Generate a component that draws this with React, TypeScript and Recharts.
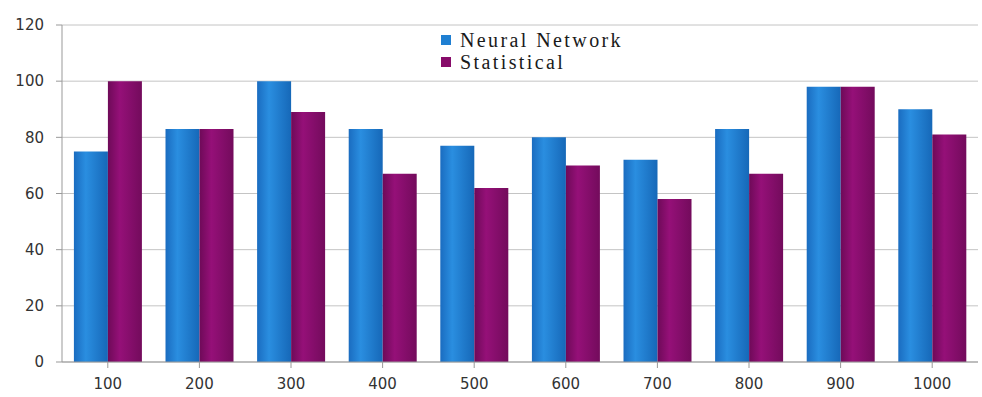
import { BarChart, Bar, XAxis, YAxis, CartesianGrid } from 'recharts';

const categorias = ['100', '200', '300', '400', '500', '600', '700', '800', '900', '1000'];
const neuralNetwork = [75, 83, 100, 83, 77, 80, 72, 83, 98, 90];
const statistical = [100, 83, 89, 67, 62, 70, 58, 67, 98, 81];
const yTicks = [0, 20, 40, 60, 80, 100, 120];

const series = [
  { key: 'Neural Network', cor: '#1f7fd2', grad: 'gradAzul' },
  { key: 'Statistical', cor: '#870c6a', grad: 'gradRoxo' },
];

const dados = categorias.map((c, i) => ({
  name: c,
  'Neural Network': neuralNetwork[i],
  Statistical: statistical[i],
}));

// legenda desenhada por fora para não roubar espaço da área do gráfico
function Legenda() {
  return (
    <div
      style={{
        position: 'absolute',
        left: 441,
        top: 29,
        fontFamily: 'Liberation Serif',
        fontSize: 20,
        letterSpacing: 2.4,
        color: '#1a1a1a',
        lineHeight: '22px',
      }}
    >
      {series.map((s) => (
        <div key={s.key} style={{ display: 'flex', alignItems: 'center' }}>
          <span style={{ width: 10, height: 10, background: s.cor, marginRight: 9, display: 'inline-block' }} />
          {s.key}
        </div>
      ))}
    </div>
  );
}

export default function App() {
  return (
    <div style={{ position: 'absolute', left: 0, top: 0, width: 982, height: 397, background: '#fff' }}>
      <BarChart
        width={982}
        height={397}
        data={dados}
        margin={{ top: 25, right: 4, left: 0, bottom: 5 }}
        barCategoryGap="13%"
        barGap={0}
      >
        <defs>
          <linearGradient id="gradAzul" x1="0" y1="0" x2="1" y2="0">
            <stop offset="0%" stopColor="#1a6cc0" />
            <stop offset="35%" stopColor="#2a8ee0" />
            <stop offset="100%" stopColor="#1668b8" />
          </linearGradient>
          <linearGradient id="gradRoxo" x1="0" y1="0" x2="1" y2="0">
            <stop offset="0%" stopColor="#6e0a58" />
            <stop offset="35%" stopColor="#951078" />
            <stop offset="100%" stopColor="#730b5c" />
          </linearGradient>
        </defs>
        <CartesianGrid vertical={false} stroke="#c4c4c4" />
        <XAxis
          dataKey="name"
          height={30}
          stroke="#999"
          tickLine={{ stroke: '#999' }}
          tick={{ fill: '#333', fontSize: 15, fontFamily: 'DejaVu Sans' }}
          tickMargin={10}
        />
        <YAxis
          domain={[0, 120]}
          ticks={yTicks}
          width={62}
          stroke="#999"
          tick={{ fill: '#333', fontSize: 15, fontFamily: 'DejaVu Sans' }}
          tickMargin={12}
        />
        {series.map((s) => (
          <Bar key={s.key} dataKey={s.key} fill={`url(#${s.grad})`} isAnimationActive={false} />
        ))}
      </BarChart>
      <Legenda />
    </div>
  );
}
